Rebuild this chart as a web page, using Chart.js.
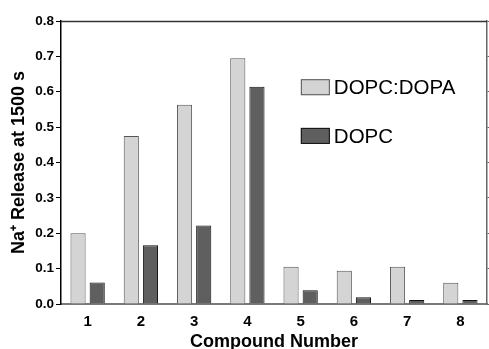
<!DOCTYPE html>
<html>
<head>
<meta charset="utf-8">
<script src="https://cdn.jsdelivr.net/npm/chart.js@4/dist/chart.umd.min.js"></script>
<style>
html,body{margin:0;padding:0;background:#fff;}
#wrap{width:489px;height:349px;position:relative;}
</style>
</head>
<body>
<div id="wrap"><canvas id="c" width="489" height="349"></canvas></div>
<script>
const categories = ["1","2","3","4","5","6","7","8"];
const dopcDopa = [0.200, 0.475, 0.563, 0.695, 0.105, 0.094, 0.105, 0.060];
const dopc = [0.061, 0.166, 0.222, 0.614, 0.039, 0.019, 0.011, 0.011];
const seriesLabels = ["DOPC:DOPA", "DOPC"];
const yTicks = [0.0, 0.1, 0.2, 0.3, 0.4, 0.5, 0.6, 0.7, 0.8];

const FONT = "'Liberation Sans', Arial, sans-serif";

const frameAndLegend = {
  id: 'frameAndLegend',
  afterDraw(chart) {
    const ctx = chart.ctx;
    const a = chart.chartArea;
    ctx.save();
    ctx.strokeStyle = '#333';
    ctx.lineWidth = 1.5;
    ctx.beginPath();
    ctx.moveTo(a.left, a.top + 0.5);
    ctx.lineTo(a.right, a.top + 0.5);
    ctx.stroke();
    const w = a.right - a.left, h = a.bottom - a.top;
    const bx = a.left + w * 0.563;
    const rows = [a.top + h * 0.234, a.top + h * 0.406];
    ctx.font = "20.5px " + FONT;
    ctx.textBaseline = 'middle';
    ctx.textAlign = 'left';
    chart.data.datasets.forEach((ds, i) => {
      const cy = rows[i];
      ctx.fillStyle = ds.backgroundColor;
      ctx.fillRect(bx, cy - 8, 29, 16);
      ctx.strokeStyle = ds.borderColor;
      ctx.lineWidth = 1;
      ctx.strokeRect(bx + 0.5, cy - 7.5, 28, 15);
      ctx.fillStyle = '#000';
      ctx.fillText(ds.label, bx + 33, cy + 1);
    });
    ctx.restore();
  }
};

new Chart(document.getElementById('c'), {
  type: 'bar',
  data: {
    labels: categories,
    datasets: [
      { label: seriesLabels[0], data: dopcDopa, backgroundColor: '#d4d4d4', borderColor: '#555555', borderWidth: 1 },
      { label: seriesLabels[1], data: dopc, backgroundColor: '#5f5f5f', borderColor: '#111111', borderWidth: 1 }
    ]
  },
  options: {
    responsive: false,
    animation: false,
    layout: { padding: { top: 21, right: 0, left: 0, bottom: 0 } },
    categoryPercentage: 0.72,
    barPercentage: 0.79,
    plugins: { legend: { display: false }, tooltip: { enabled: false } },
    scales: {
      x: {
        grid: { display: false, drawTicks: false },
        border: { display: true, color: '#7a7a7a', width: 2 },
        ticks: { color: '#000', font: { family: FONT, size: 15, weight: 'bold' }, padding: 9 },
        title: { display: true, text: 'Compound Number', color: '#000', font: { family: FONT, size: 18, weight: 'bold' }, padding: { top: 0, bottom: -4 } },
        afterFit(s) { s.height = 45; }
      },
      y: {
        min: 0, max: 0.8,
        afterBuildTicks(s) { s.ticks = yTicks.map(v => ({ value: v })); },
        grid: { drawOnChartArea: false, drawTicks: true, tickLength: 5, color: '#000' },
        border: { display: true, color: '#000', width: 1.5 },
        ticks: { color: '#000', font: { family: FONT, size: 13.5, weight: 'bold' }, padding: 2, callback: v => Number(v).toFixed(1) },
        title: { display: true, text: 'Na\u207A Release at 1500 s', color: '#000', font: { family: FONT, size: 18, weight: 'bold' }, padding: { top: 8, bottom: 0 } },
        afterFit(s) { s.width = 61; }
      },
      y2: {
        position: 'right',
        min: 0, max: 0.8,
        afterBuildTicks(s) { s.ticks = yTicks.map(v => ({ value: v })); },
        grid: { drawOnChartArea: false, drawTicks: true, tickLength: 4, color: '#666' },
        border: { display: true, color: '#666', width: 1.5 },
        ticks: { display: false },
        afterFit(s) { s.width = 2; }
      }
    }
  },
  plugins: [frameAndLegend]
});
</script>
</body>
</html>
